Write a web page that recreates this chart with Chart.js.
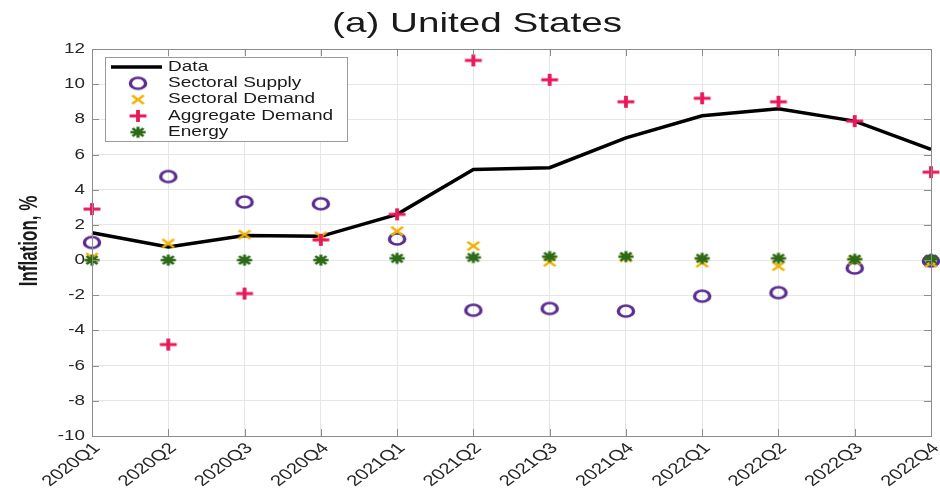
<!DOCTYPE html>
<html>
<head>
<meta charset="utf-8">
<script src="https://cdn.jsdelivr.net/npm/chart.js@4.4.1/dist/chart.umd.min.js"></script>
<style>
  html, body { margin: 0; padding: 0; background: #fff; }
  #wrap { width: 940px; height: 495px; }
</style>
</head>
<body>
<div id="wrap"><canvas id="inflationChart" width="940" height="495"></canvas></div>
<script>
// Quarterly inflation decomposition, United States
const quarters = ['2020Q1', '2020Q2', '2020Q3', '2020Q4', '2021Q1', '2021Q2',
                  '2021Q3', '2021Q4', '2022Q1', '2022Q2', '2022Q3', '2022Q4'];
const dataInflation   = [1.55, 0.75, 1.4, 1.35, 2.6, 5.15, 5.25, 6.95, 8.2, 8.6, 7.9, 6.3];
const sectoralSupply  = [1.0, 4.75, 3.3, 3.2, 1.2, -2.85, -2.75, -2.9, -2.05, -1.85, -0.45, -0.05];
const sectoralDemand  = [0.15, 0.95, 1.45, 1.35, 1.65, 0.8, -0.1, 0.15, -0.15, -0.35, 0.0, -0.15];
const aggregateDemand = [2.9, -4.8, -1.9, 1.15, 2.6, 11.35, 10.25, 9.0, 9.2, 9.0, 7.9, 5.0];
const energy          = [0.0, 0.0, 0.0, 0.0, 0.1, 0.15, 0.2, 0.2, 0.1, 0.1, 0.05, 0.05];
const yTicks = [-10, -8, -6, -4, -2, 0, 2, 4, 6, 8, 10, 12];

const FONT = "'Liberation Sans', Arial, sans-serif";
const AXIS_COLOR = '#8c8c8c';
const TEXT_COLOR = '#262626';
const SX = 1.36; // the figure is rendered wider than tall, text and markers follow

// marker images, drawn with the same horizontal stretch as the text
function makeMarker(kind, color, lw) {
    const c = document.createElement('canvas');
    c.width = 26; c.height = 20;
    const g = c.getContext('2d');
    g.translate(13, 10);
    g.scale(SX, 1);
    g.strokeStyle = color;
    g.lineWidth = lw;
    g.lineCap = 'butt';
    g.beginPath();
    if (kind === 'circle') {
        g.arc(0, 0, 5.6, 0, Math.PI * 2);
    } else if (kind === 'plus') {
        g.moveTo(-6.2, 0); g.lineTo(6.2, 0);
        g.moveTo(0, -6); g.lineTo(0, 6);
    } else if (kind === 'x') {
        g.moveTo(-4.3, -4.3); g.lineTo(4.3, 4.3);
        g.moveTo(-4.3, 4.3); g.lineTo(4.3, -4.3);
    } else if (kind === 'star') {
        const r = 5.6, d = r * 0.72;
        g.moveTo(-r, 0); g.lineTo(r, 0);
        g.moveTo(0, -r); g.lineTo(0, r);
        g.moveTo(-d, -d); g.lineTo(d, d);
        g.moveTo(-d, d); g.lineTo(d, -d);
    }
    g.stroke();
    return c;
}

function stretchedText(ctx, text, x, y, opts) {
    ctx.save();
    ctx.translate(x, y);
    ctx.scale(opts.sx || SX, opts.sy || 1);
    if (opts.rotate) ctx.rotate(opts.rotate);
    ctx.font = opts.font;
    ctx.fillStyle = opts.color || TEXT_COLOR;
    ctx.textAlign = opts.align || 'left';
    ctx.textBaseline = opts.baseline || 'alphabetic';
    ctx.fillText(text, 0, 0);
    ctx.restore();
}

// title, tick labels, axis label, box and inward ticks
const axesDecor = {
    id: 'axesDecor',
    afterDraw(chart) {
        const { ctx, chartArea: a, scales } = chart;
        ctx.save();
        ctx.strokeStyle = AXIS_COLOR;
        ctx.lineWidth = 1;
        ctx.strokeRect(a.left + 0.5, a.top + 0.5, a.right - a.left, a.bottom - a.top);
        ctx.beginPath();
        quarters.forEach((q, i) => {
            const x = Math.round(scales.x.getPixelForTick(i)) + 0.5;
            ctx.moveTo(x, a.top); ctx.lineTo(x, a.top + 7);
            ctx.moveTo(x, a.bottom); ctx.lineTo(x, a.bottom - 7);
        });
        yTicks.forEach(v => {
            const y = Math.round(scales.y.getPixelForValue(v)) + 0.5;
            ctx.moveTo(a.right, y); ctx.lineTo(a.right - 7, y);
            ctx.moveTo(a.left, y); ctx.lineTo(a.left + 7, y);
        });
        ctx.stroke();
        ctx.restore();

        stretchedText(ctx, '(a) United States', 477, 32,
            { font: '28px ' + FONT, align: 'center', color: '#1a1a1a', sx: 1.38 });

        yTicks.forEach(v => {
            stretchedText(ctx, String(v), a.left - 7, scales.y.getPixelForValue(v),
                { font: '14.5px ' + FONT, align: 'right', baseline: 'middle', sx: 1.3 });
        });

        quarters.forEach((q, i) => {
            stretchedText(ctx, q, scales.x.getPixelForTick(i) + 5, a.bottom + 10,
                { font: '15px ' + FONT, align: 'right', baseline: 'middle', rotate: -Math.PI / 4 });
        });

        stretchedText(ctx, 'Inflation, %', 37, 241,
            { font: 'bold 17px ' + FONT, align: 'center', baseline: 'alphabetic',
              color: '#1a1a1a', sx: 1.5, sy: 1, rotate: -Math.PI / 2 });
    }
};

// legend drawn inside the plot, top left
const insideLegend = {
    id: 'insideLegend',
    afterDraw(chart) {
        const { ctx, chartArea: a } = chart;
        const x0 = a.left + 13, y0 = a.top + 8;
        const w = 242, h = 84;
        ctx.save();
        ctx.fillStyle = '#fff';
        ctx.fillRect(x0, y0, w, h);
        ctx.strokeStyle = '#9a9a9a';
        ctx.lineWidth = 1;
        ctx.strokeRect(x0 + 0.5, y0 + 0.5, w, h);
        chart.data.datasets.forEach((ds, i) => {
            const cy = y0 + 10 + i * 16.3;
            if (ds.showLine) {
                ctx.strokeStyle = ds.borderColor;
                ctx.lineWidth = 3.5;
                ctx.beginPath();
                ctx.moveTo(x0 + 6, cy); ctx.lineTo(x0 + 57, cy);
                ctx.stroke();
            } else {
                const img = ds.pointStyle;
                ctx.drawImage(img, x0 + 33 - img.width / 2, cy - img.height / 2);
            }
            stretchedText(ctx, ds.label, x0 + 63, cy,
                { font: '14px ' + FONT, baseline: 'middle', color: '#1a1a1a', sx: 1.36 });
        });
        ctx.restore();
    }
};

function markerSet(label, values, marker, order) {
    return {
        label: label,
        data: values,
        showLine: false,
        pointStyle: marker,
        pointRadius: 8,
        pointHoverRadius: 8,
        borderColor: 'rgba(0,0,0,0)',
        backgroundColor: 'rgba(0,0,0,0)',
        order: order
    };
}

new Chart(document.getElementById('inflationChart'), {
    type: 'line',
    data: {
        labels: quarters,
        datasets: [
            {
                label: 'Data',
                data: dataInflation,
                showLine: true,
                borderColor: '#000',
                borderWidth: 3.5,
                pointRadius: 0,
                tension: 0,
                order: 5
            },
            markerSet('Sectoral Supply', sectoralSupply, makeMarker('circle', '#5a2d91', 2.5), 4),
            markerSet('Sectoral Demand', sectoralDemand, makeMarker('x', '#f2b200', 2.2), 3),
            markerSet('Aggregate Demand', aggregateDemand, makeMarker('plus', '#e8185a', 2.8), 2),
            markerSet('Energy', energy, makeMarker('star', '#2c6a17', 2.3), 1)
        ]
    },
    options: {
        responsive: false,
        animation: false,
        events: [],
        clip: false,
        layout: { padding: { left: 0, right: 8, top: 49, bottom: 0 } },
        plugins: {
            legend: { display: false },
            tooltip: { enabled: false },
            title: { display: false }
        },
        scales: {
            x: {
                offset: false,
                grid: { color: '#e6e6e6', drawTicks: false },
                border: { color: AXIS_COLOR },
                ticks: { display: false, autoSkip: false },
                afterFit(scale) {
                    scale.height = 59;
                    scale.paddingLeft = 0;
                    scale.paddingRight = 0;
                }
            },
            y: {
                min: -10,
                max: 12,
                afterBuildTicks(scale) {
                    scale.ticks = yTicks.map(v => ({ value: v }));
                },
                grid: { color: '#e6e6e6', drawTicks: false },
                border: { color: AXIS_COLOR },
                ticks: { display: false },
                afterFit(scale) {
                    scale.width = 92;
                }
            }
        }
    },
    plugins: [axesDecor, insideLegend]
});
</script>
</body>
</html>
